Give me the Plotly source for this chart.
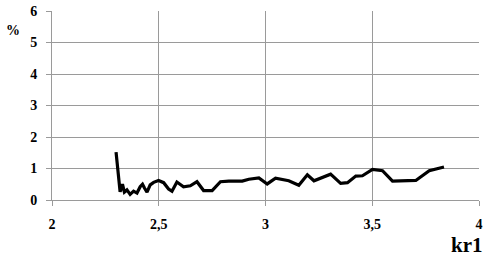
import plotly.graph_objects as go

kr1 = [2.300, 2.319, 2.330, 2.339, 2.351, 2.366, 2.382, 2.398, 2.413, 2.424,
       2.433, 2.445, 2.460, 2.476, 2.499, 2.523, 2.546, 2.562, 2.585, 2.616,
       2.648, 2.679, 2.710, 2.750, 2.789, 2.828, 2.891, 2.922, 2.969, 3.008,
       3.047, 3.109, 3.156, 3.196, 3.227, 3.305, 3.352, 3.384, 3.423, 3.454,
       3.501, 3.548, 3.595, 3.704, 3.767, 3.836]
pct = [1.52, 0.26, 0.50, 0.25, 0.32, 0.18, 0.28, 0.22, 0.42, 0.50,
       0.38, 0.25, 0.48, 0.56, 0.62, 0.55, 0.35, 0.28, 0.57, 0.42,
       0.45, 0.58, 0.30, 0.30, 0.58, 0.60, 0.60, 0.66, 0.70, 0.51,
       0.69, 0.61, 0.47, 0.80, 0.61, 0.82, 0.53, 0.55, 0.76, 0.77,
       0.97, 0.93, 0.60, 0.62, 0.93, 1.05]

x_ticks = [2, 2.5, 3, 3.5, 4]
x_tick_labels = ["2", "2,5", "3", "3,5", "4"]
y_ticks = [0, 1, 2, 3, 4, 5, 6]
y_tick_labels = ["0", "1", "2", "3", "4", "5", "6"]

FAM = "Liberation Serif, Times New Roman, serif"
grid = "#9a9a9a"
tfont = dict(family=FAM, size=14, color="black", weight="bold")

fig = go.Figure()
fig.add_trace(go.Scatter(x=kr1, y=pct, mode="lines",
                         line=dict(color="black", width=3.2), showlegend=False))

fig.update_layout(
    width=487, height=258,
    margin=dict(l=52, r=8, t=11, b=58, autoexpand=False),
    paper_bgcolor="white", plot_bgcolor="white",
    font=dict(family=FAM, size=14, color="black"),
    xaxis=dict(range=[2, 4], tickvals=x_ticks,
               ticktext=["<b>%s</b>" % t for t in x_tick_labels],
               showgrid=True, gridcolor=grid, gridwidth=1,
               showline=True, linecolor=grid, linewidth=1,
               ticks="outside", ticklen=5, tickcolor=grid,
               tickfont=tfont, ticklabelstandoff=6,
               zeroline=False),
    yaxis=dict(range=[0, 6], tickvals=y_ticks,
               ticktext=["<b>%s</b>" % t for t in y_tick_labels],
               showgrid=True, gridcolor=grid, gridwidth=1,
               showline=True, linecolor=grid, linewidth=1,
               ticks="outside", ticklen=5, tickcolor=grid,
               tickfont=tfont, ticklabelstandoff=6,
               zeroline=False),
    annotations=[
        dict(text="<b>%</b>", xref="paper", yref="paper", x=-0.113, y=0.895,
             xanchor="left", yanchor="middle", showarrow=False,
             font=dict(family=FAM, size=14, color="black")),
        dict(text="<b>kr1</b>", xref="paper", yref="paper", x=1.014, y=-0.238,
             xanchor="right", yanchor="middle", showarrow=False,
             font=dict(family=FAM, size=21, color="black")),
    ],
)

fig.write_html("out.html",
               config={"displayModeBar": False},
               post_script="document.body.style.margin='0';document.body.style.overflow='hidden';")
